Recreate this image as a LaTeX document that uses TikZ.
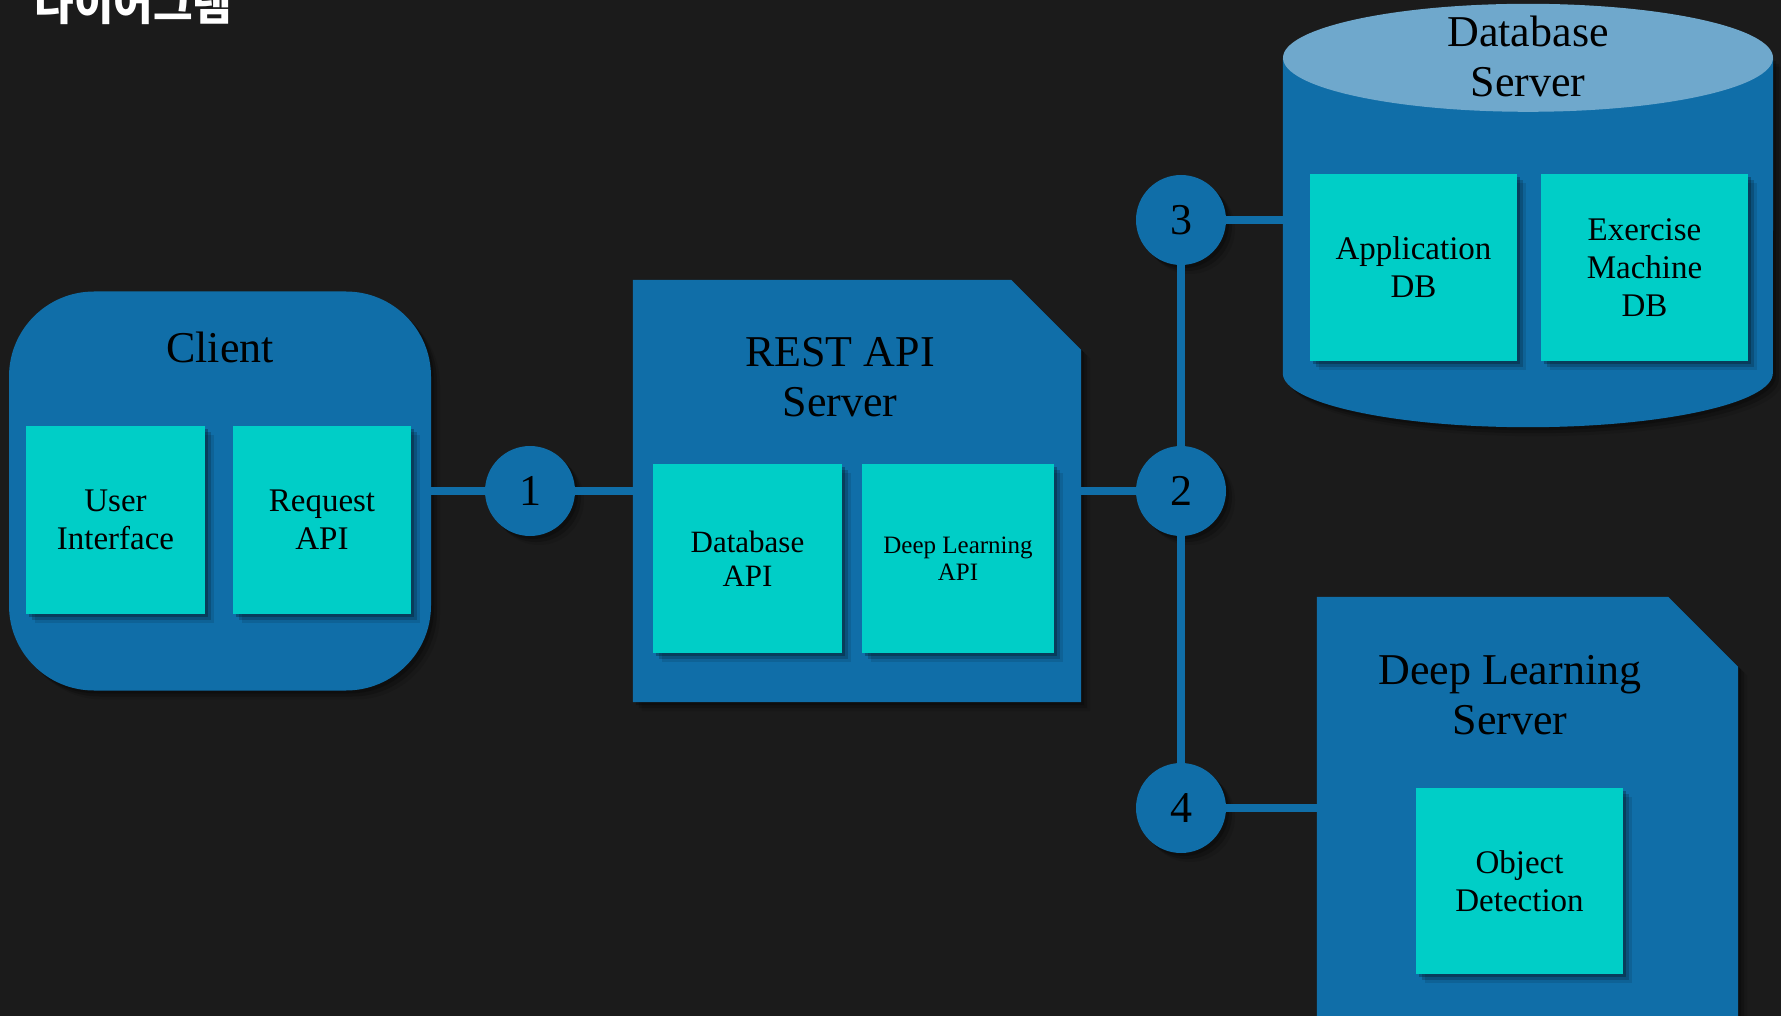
\documentclass[tikz,border=0pt]{standalone}
\usepackage{fontspec}
\setmainfont{Liberation Serif}
\newfontfamily\krfont{Noto Sans CJK KR}
\usetikzlibrary{shadows}
\definecolor{bgdark}{RGB}{27,27,27}
\definecolor{srvblue}{RGB}{16,110,168}
\definecolor{boxcyan}{RGB}{0,206,199}
\definecolor{dbtop}{RGB}{111,168,204}

\begin{document}
\begin{tikzpicture}[x=1pt,y=-1pt]
\tikzstyle{srvshadow}=[drop shadow={shadow xshift=3pt,shadow yshift=-3pt,opacity=.25,fill=black},
  drop shadow={shadow xshift=6pt,shadow yshift=-6pt,opacity=.18,fill=black},
  drop shadow={shadow xshift=9pt,shadow yshift=-9pt,opacity=.1,fill=black}]
\tikzstyle{part}=[fill=boxcyan, inner sep=0, align=center, font=\fontsize{33}{38}\selectfont, srvshadow]
\tikzstyle{badge}=[circle, fill=srvblue, minimum size=90pt, inner sep=0, font=\fontsize{44}{44}\selectfont, srvshadow]
\tikzstyle{heading}=[align=center, font=\fontsize{44}{50}\selectfont]
\tikzstyle{anchorbox}=[inner sep=0]
\tikzstyle{wire}=[srvblue, line width=8pt]

\useasboundingbox (0,0) rectangle (1781,1016);
\fill[bgdark] (0,0) rectangle (1781,1016);
\clip (0,0) rectangle (1781,1016);

\draw (31,21) node (head) [anchor=base west, white, font=\krfont\bfseries\fontsize{43}{43}\selectfont] {다이어그램};

% client
\draw (220,491) node (client) [fill=srvblue, rounded corners=85pt, minimum width=422pt, minimum height=399pt, srvshadow] {};
\draw (220,347) node (clientT) [heading] {Client};
\draw (115.5,520) node (ui) [part, minimum width=179pt, minimum height=188pt] {User\\Interface};
\draw (322,520) node (req) [part, minimum width=178pt, minimum height=188pt] {Request\\API};

% rest api server
\draw (857,491) node (rest) [anchorbox, minimum width=448pt, minimum height=422pt] {};
\fill[srvblue, srvshadow] (rest.north west) -- ([xshift=-70pt]rest.north east) -- ([yshift=-70pt]rest.north east) -- (rest.south east) -- (rest.south west) -- cycle;
\draw (840,377) node (restT) [heading] {REST API\\Server};
\draw (747.5,558.5) node (dbapi) [part, minimum width=189pt, minimum height=189pt, font=\fontsize{31}{34}\selectfont] {Database\\API};
\draw (958,558.5) node (dlapi) [part, minimum width=192pt, minimum height=189pt, font=\fontsize{25}{27}\selectfont] {Deep Learning\\API};

% database server
\draw (1528,215.5) node (db) [anchorbox, minimum width=490pt, minimum height=315pt] {};
\fill[srvblue, srvshadow] (db.north west) -- (db.south west) arc[start angle=180, end angle=360, x radius=245pt, y radius=54pt] -- (db.north east) -- cycle;
\fill[dbtop] (db.north) ellipse [x radius=245pt, y radius=54pt];
\draw (1528,56) node (dbT) [heading] {Database\\Server};
\draw (1413.5,267.5) node (appdb) [part, minimum width=207pt, minimum height=187pt] {Application\\DB};
\draw (1644.5,267.5) node (exdb) [part, minimum width=207pt, minimum height=187pt] {Exercise\\Machine\\DB};

% deep learning server
\draw (1527.5,828.5) node (dl) [anchorbox, minimum width=421pt, minimum height=463pt] {};
\fill[srvblue, srvshadow] (dl.north west) -- ([xshift=-70pt]dl.north east) -- ([yshift=-70pt]dl.north east) -- (dl.south east) -- (dl.south west) -- cycle;
\draw (1510,695) node (dlT) [heading] {Deep Learning\\Server};
\draw (1519.5,881) node (od) [part, minimum width=207pt, minimum height=186pt] {Object\\Detection};

% numbered joints
\draw (530,491) node (c1) [badge] {1};
\draw (1181,491) node (c2) [badge] {2};
\draw (1181,220) node (c3) [badge] {3};
\draw (1181,808) node (c4) [badge] {4};

\draw[wire] (client) -- (c1) -- (rest) -- (c2);
\draw[wire] (c3) -- (c2) -- (c4);
\draw[wire] (c3) -- (c3 -| db.west);
\draw[wire] (c4) -- (c4 -| dl.west);
\end{tikzpicture}
\end{document}
